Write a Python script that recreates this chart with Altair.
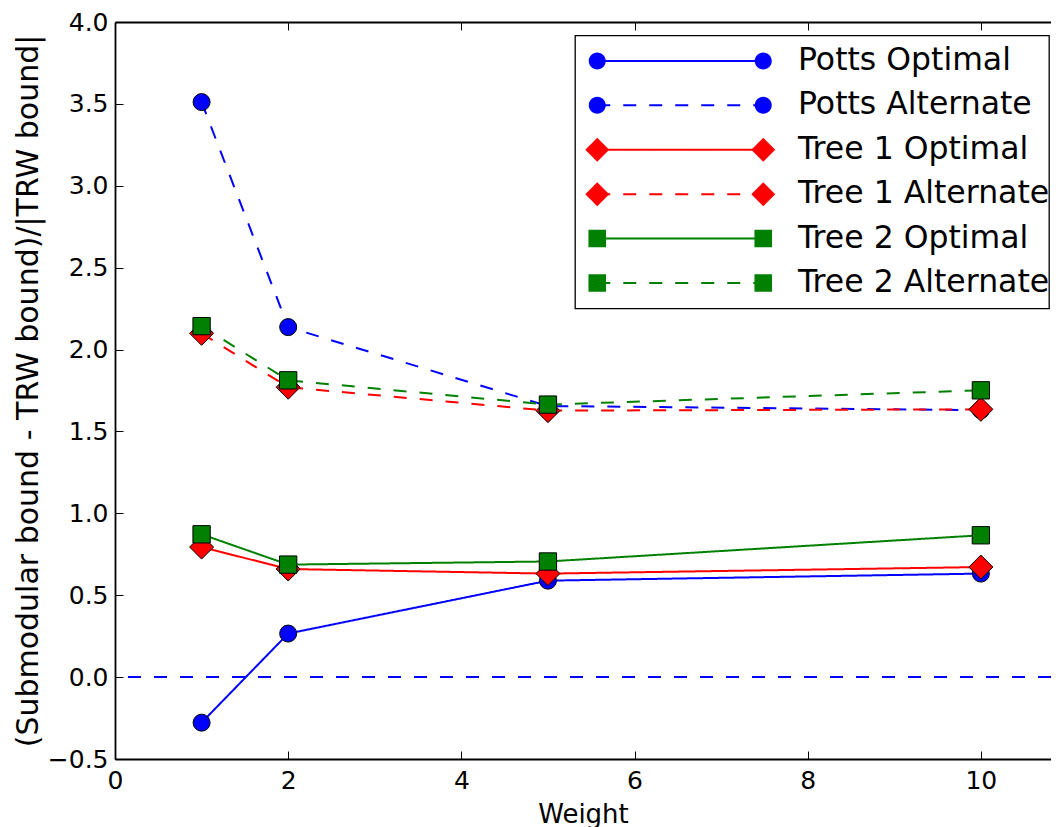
import altair as alt
import pandas as pd

# ---- data ----
WEIGHTS = [1, 2, 5, 10]
SERIES = ["Potts Optimal", "Potts Alternate", "Tree 1 Optimal",
          "Tree 1 Alternate", "Tree 2 Optimal", "Tree 2 Alternate"]
POTTS_OPT = [-0.278, 0.266, 0.589, 0.632]
POTTS_ALT = [3.511, 2.137, 1.655, 1.630]
TREE1_OPT = [0.794, 0.660, 0.632, 0.672]
TREE1_ALT = [2.099, 1.770, 1.627, 1.635]
TREE2_OPT = [0.872, 0.687, 0.706, 0.866]
TREE2_ALT = [2.143, 1.812, 1.664, 1.751]
VALUES = [POTTS_OPT, POTTS_ALT, TREE1_OPT, TREE1_ALT, TREE2_OPT, TREE2_ALT]

XTICKS = [0, 2, 4, 6, 8, 10]
YTICKS = [-0.5, 0.0, 0.5, 1.0, 1.5, 2.0, 2.5, 3.0, 3.5, 4.0]
BASELINE = [0.0]

COLORS = ["#0000ff", "#0000ff", "#ff0000", "#ff0000", "#008000", "#008000"]
DASHES = [[1, 0], [13, 13], [1, 0], [13, 13], [1, 0], [13, 13]]

rows = []
for name, vals in zip(SERIES, VALUES):
    for w, v in zip(WEIGHTS, vals):
        rows.append({"x": w, "value": v, "series": name})
df = pd.DataFrame(rows)
base_df = pd.DataFrame({"zero": BASELINE})

FONT = "DejaVu Sans"
XS = alt.Scale(domain=[0, 10.81], nice=False, zero=False)
YS = alt.Scale(domain=[-0.5, 4.0], nice=False, zero=False)

# legend symbol paths (unit = half of sqrt(symbolSize) = 8.5px)
LINE_PATH = "M -9.765,0 L 9.765,0"
CIRCLES = ("M -10.765,0 A 1,1 0 1,0 -8.765,0 A 1,1 0 1,0 -10.765,0 Z "
           "M 8.765,0 A 1,1 0 1,0 10.765,0 A 1,1 0 1,0 8.765,0 Z")
DIAMONDS = ("M -9.765,-1.41 L -8.355,0 L -9.765,1.41 L -11.175,0 Z "
            "M 9.765,-1.41 L 11.175,0 L 9.765,1.41 L 8.355,0 Z")
SQUARES = ("M -10.8,-1.03 L -8.73,-1.03 L -8.73,1.03 L -10.8,1.03 Z "
           "M 8.73,-1.03 L 10.8,-1.03 L 10.8,1.03 L 8.73,1.03 Z")
LEGEND_SHAPES = [CIRCLES, CIRCLES, DIAMONDS, DIAMONDS, SQUARES, SQUARES]

common_legend = dict(
    title=None, orient="none", legendX=460, legendY=13.5, direction="vertical",
    columns=1, symbolSize=289, labelFontSize=31.5, labelFont=FONT,
    symbolOffset=79.8, padding=9.7, rowPadding=11.4, symbolOpacity=1,
)
# line part of the legend (with the visible labels)
L1 = alt.Legend(symbolType=LINE_PATH, symbolStrokeWidth=2, labelColor="black",
                labelLimit=500, labelOffset=102, **common_legend)
# marker part of the legend; it also draws the frame (its label is a blank
# placed so that the frame ends where the reference frame ends)
L2 = alt.Legend(symbolStrokeColor="black", symbolStrokeWidth=1, labelOpacity=0,
                labelExpr="' '", labelOffset=343, strokeColor="black",
                **common_legend)

AX_X = alt.Axis(orient="bottom", values=XTICKS, format="d", title="Weight",
                ticks=False, tickSize=0, domain=True, domainColor="black",
                domainWidth=1.8, labelFontSize=25, labelPadding=9,
                labelFlush=False, titleFontSize=26, titleY=63,
                titleBaseline="alphabetic", grid=False)
AX_Y = alt.Axis(orient="left", values=YTICKS, format=".1f",
                title="(Submodular bound - TRW bound)/|TRW bound|",
                ticks=False, tickSize=0, domain=True, domainColor="black",
                domainWidth=1.8, labelFontSize=25, labelPadding=7,
                labelFlush=False, titleFontSize=30, titleAngle=270,
                titleX=-78, titleY=368.5, titleBaseline="alphabetic",
                titleAlign="center", grid=False)
AX_XB_TICKS = alt.Axis(orient="bottom", offset=-8, values=XTICKS, ticks=True,
                       tickSize=8, tickColor="black", tickWidth=1, domain=False,
                       labels=False, title=None, grid=False)
AX_YL_TICKS = alt.Axis(orient="left", offset=-8, values=YTICKS, ticks=True,
                       tickSize=8, tickColor="black", tickWidth=1, domain=False,
                       labels=False, title=None, grid=False)
AX_XT_SPINE = alt.Axis(orient="top", values=XTICKS, ticks=False, domain=True,
                       domainColor="black", domainWidth=1.8, labels=False,
                       title=None, grid=False)
AX_XT_TICKS = alt.Axis(orient="top", offset=-8, values=XTICKS, ticks=True,
                       tickSize=8, tickColor="black", tickWidth=1, domain=False,
                       labels=False, title=None, grid=False)

zero_rule = alt.Chart(base_df).mark_rule(
    color="#0000ff", strokeWidth=2, strokeDash=[13, 13]
).encode(y=alt.Y("zero:Q", scale=YS, axis=None))

lines = alt.Chart(df).mark_line(strokeWidth=2).encode(
    x=alt.X("x:Q", scale=XS, axis=AX_X),
    y=alt.Y("value:Q", scale=YS, axis=AX_Y),
    color=alt.Color("series:N", scale=alt.Scale(domain=SERIES, range=COLORS), legend=L1),
    strokeDash=alt.StrokeDash("series:N", scale=alt.Scale(domain=SERIES, range=DASHES), legend=L1),
)


def markers(names, shape, size, color, xaxis, yaxis):
    return alt.Chart(df).transform_filter(
        alt.FieldOneOfPredicate(field="series", oneOf=names)
    ).mark_point(shape=shape, size=size, filled=True, fill=color,
                 stroke="black", strokeWidth=1, opacity=1).encode(
        x=alt.X("x:Q", scale=XS, axis=xaxis),
        y=alt.Y("value:Q", scale=YS, axis=yaxis),
        detail="series:N",
    )


potts_pts = markers(SERIES[0:2], "circle", 289, COLORS[0], AX_XB_TICKS, AX_YL_TICKS)
tree1_pts = markers(SERIES[2:4], "diamond", 576, COLORS[2], AX_XT_SPINE, None)
tree2_pts = markers(SERIES[4:6], "square", 300, COLORS[4], AX_XT_TICKS, None)

# invisible layer that only carries the marker part of the legend
legend_marks = alt.Chart(df).mark_point(
    filled=True, opacity=0, stroke="black", strokeWidth=1
).encode(
    x=alt.X("x:Q", scale=XS, axis=None),
    y=alt.Y("value:Q", scale=YS, axis=None),
    color=alt.Color("series:N", scale=alt.Scale(domain=SERIES, range=COLORS), legend=L2),
    shape=alt.Shape("series:N", scale=alt.Scale(domain=SERIES, range=LEGEND_SHAPES), legend=L2),
)

chart = alt.layer(
    zero_rule, lines, potts_pts, tree1_pts, tree2_pts, legend_marks
).resolve_axis(
    x="independent", y="independent"
).resolve_scale(
    color="independent", strokeDash="independent", shape="independent"
).properties(
    width=936, height=737,
    autosize=alt.AutoSizeParams(type="none"),
    padding={"left": 107, "top": 14, "right": 0, "bottom": 68},
    background="white",
).configure_view(
    stroke=None
).configure_axis(
    labelFont=FONT, titleFont=FONT, labelColor="black", titleColor="black",
    titleFontWeight="normal"
).configure_legend(
    strokeWidth=1.3
)

chart.save("out.html", embed_options={"renderer": "svg", "actions": False})
